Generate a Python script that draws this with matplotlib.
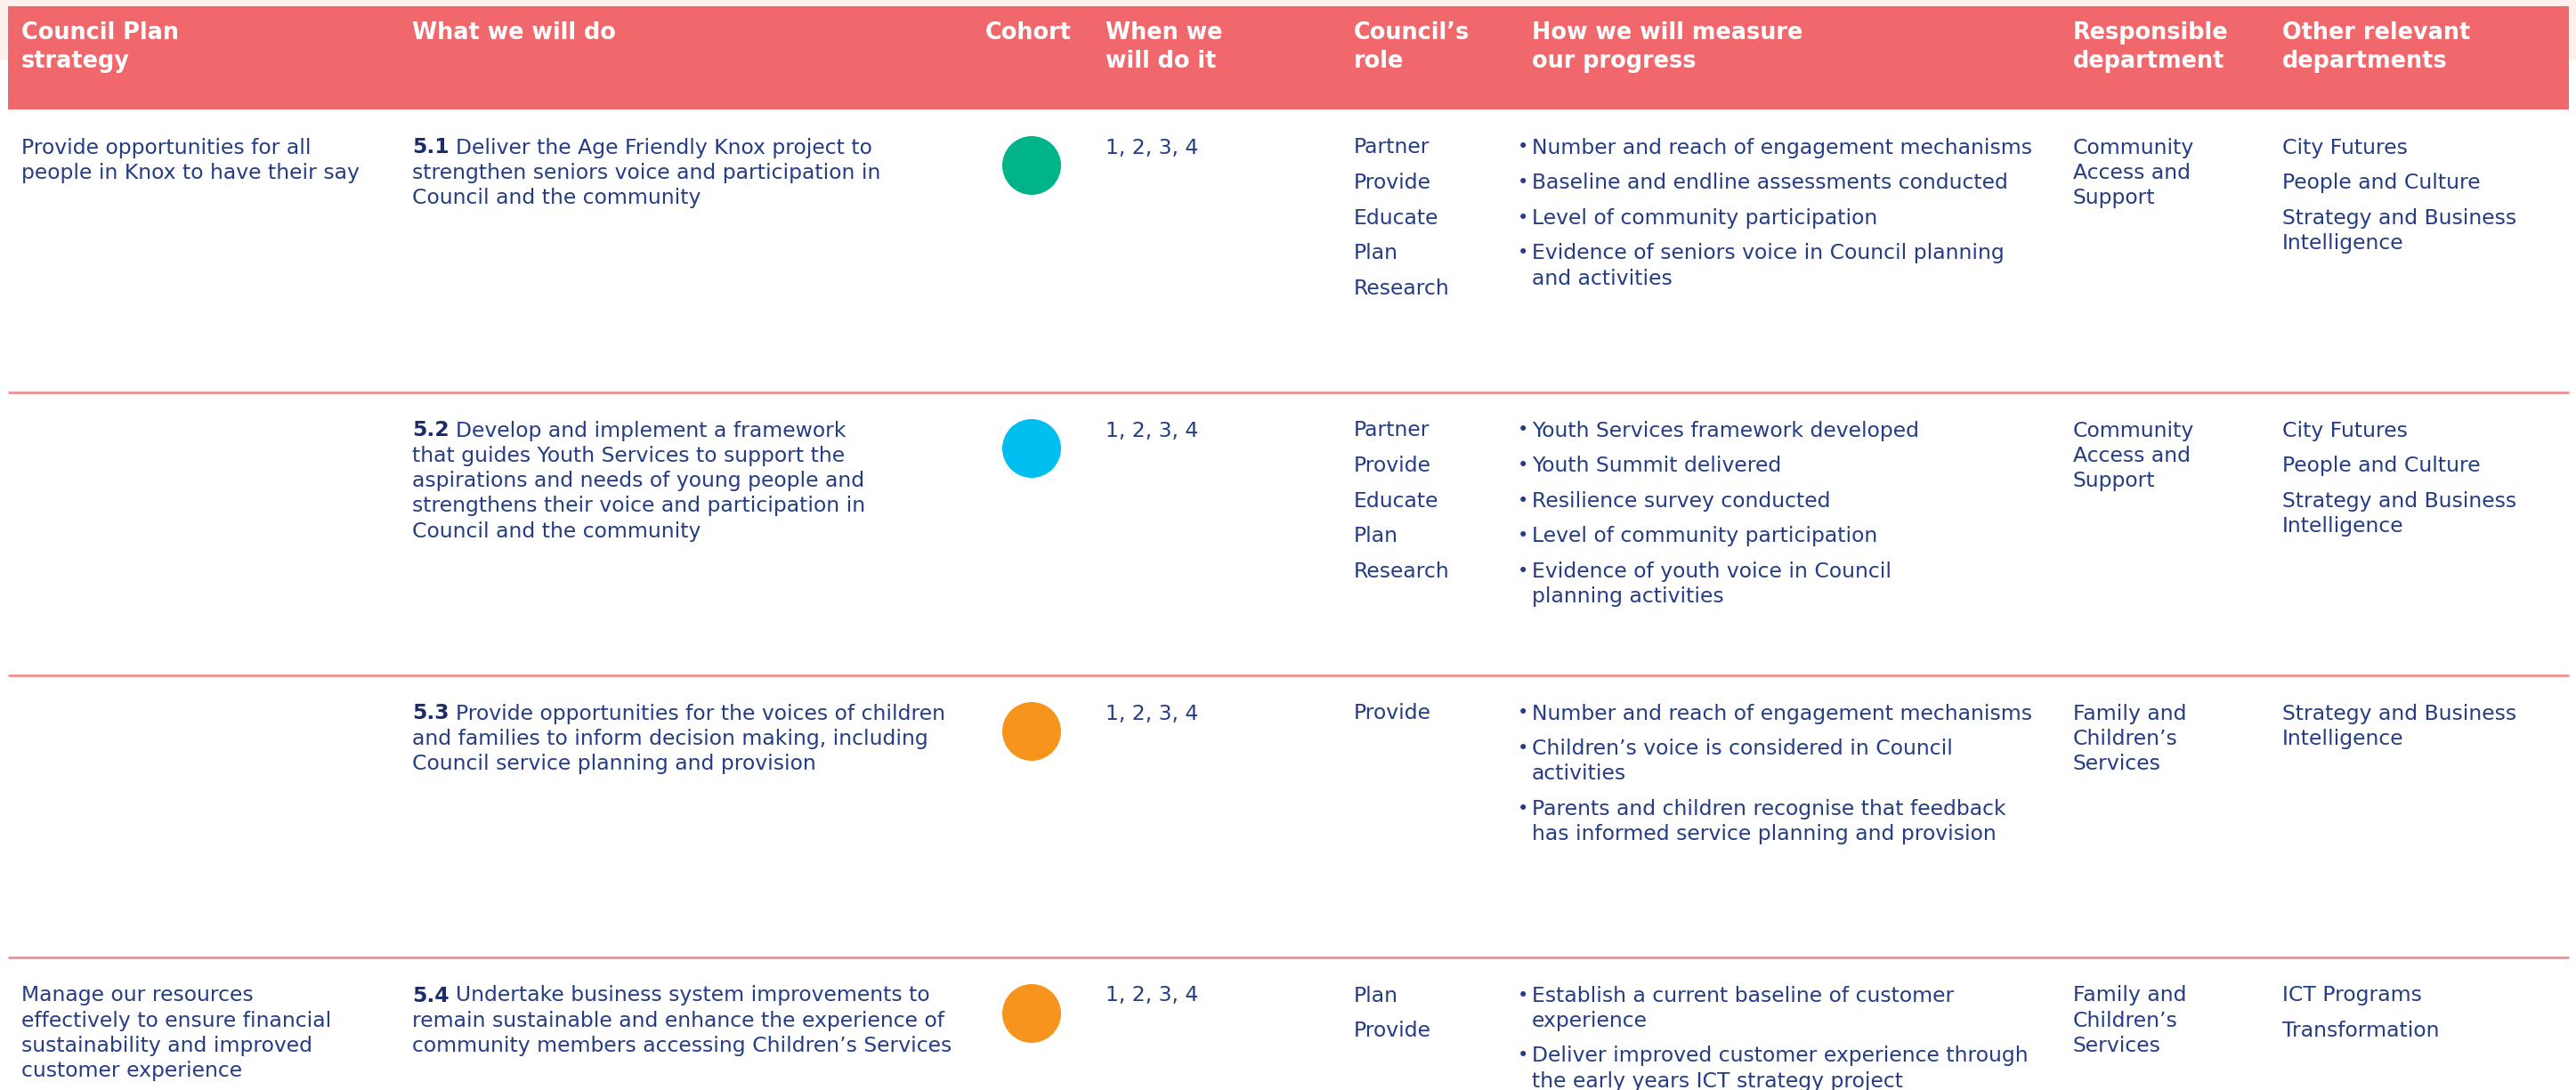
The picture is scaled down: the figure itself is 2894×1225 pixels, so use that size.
import matplotlib
matplotlib.use("Agg")
import matplotlib.pyplot as plt
from matplotlib.patches import Rectangle, Circle

# ---------------- data ----------------
headers = ["Council Plan\nstrategy", "What we will do", "Cohort", "When we\nwill do it",
           "Council\u2019s\nrole", "How we will measure\nour progress",
           "Responsible\ndepartment", "Other relevant\ndepartments"]

strategies = ["Provide opportunities for all\npeople in Knox to have their say",
              "",
              "",
              "Manage our resources\neffectively to ensure financial\nsustainability and improved\ncustomer experience"]

action_ids = ["5.1", "5.2", "5.3", "5.4"]
actions = [
    "Deliver the Age Friendly Knox project to\nstrengthen seniors voice and participation in\nCouncil and the community",
    "Develop and implement a framework\nthat guides Youth Services to support the\naspirations and needs of young people and\nstrengthens their voice and participation in\nCouncil and the community",
    "Provide opportunities for the voices of children\nand families to inform decision making, including\nCouncil service planning and provision",
    "Undertake business system improvements to\nremain sustainable and enhance the experience of\ncommunity members accessing Children\u2019s Services",
]

cohort_colors = ["#00B48A", "#00BFF0", "#F7941D", "#F7941D"]

when = ["1, 2, 3, 4", "1, 2, 3, 4", "1, 2, 3, 4", "1, 2, 3, 4"]

roles = [
    ["Partner", "Provide", "Educate", "Plan", "Research"],
    ["Partner", "Provide", "Educate", "Plan", "Research"],
    ["Provide"],
    ["Plan", "Provide"],
]

measures = [
    ["Number and reach of engagement mechanisms",
     "Baseline and endline assessments conducted",
     "Level of community participation",
     "Evidence of seniors voice in Council planning\nand activities"],
    ["Youth Services framework developed",
     "Youth Summit delivered",
     "Resilience survey conducted",
     "Level of community participation",
     "Evidence of youth voice in Council\nplanning activities"],
    ["Number and reach of engagement mechanisms",
     "Children\u2019s voice is considered in Council\nactivities",
     "Parents and children recognise that feedback\nhas informed service planning and provision"],
    ["Establish a current baseline of customer\nexperience",
     "Deliver improved customer experience through\nthe early years ICT strategy project"],
]

responsible = ["Community\nAccess and\nSupport", "Community\nAccess and\nSupport",
               "Family and\nChildren\u2019s\nServices", "Family and\nChildren\u2019s\nServices"]

others = [
    ["City Futures", "People and Culture", "Strategy and Business\nIntelligence"],
    ["City Futures", "People and Culture", "Strategy and Business\nIntelligence"],
    ["Strategy and Business\nIntelligence"],
    ["ICT Programs", "Transformation"],
]

# ---------------- style / layout ----------------
W, H = 2894, 1225
FONT = "DejaVu Sans"
HEADER_COL = "#F1686C"
PINK_BG = "#FDEFEC"
LINE_COL = "#F3878A"
TEXT_COL = "#253D85"
BOLD_COL = "#1B2C6E"
BODY_FS = 16.9
HEAD_FS = 18.4

col_x = [24, 463, 1107, 1242, 1521, 1721, 2329, 2564]
cohort_cx = 1159
bullet_x = 1705
head_top, head_bot = 7, 123
table_left, table_right = 9, 2886
row_tops = [123, 441, 759, 1076]
wrap_dy = 28.3
item_dy = 39.6
first_base = 49.5
circle_off = 63
circle_r = 33

fig = plt.figure(figsize=(W / 100, H / 100), dpi=100)
ax = fig.add_axes([0, 0, 1, 1])
ax.set_xlim(0, W)
ax.set_ylim(H, 0)
ax.axis("off")

ax.add_patch(Rectangle((0, 0), W, 67, color=PINK_BG, lw=0, zorder=0))
ax.add_patch(Rectangle((table_left, head_top), table_right - table_left, head_bot - head_top,
                       color=HEADER_COL, lw=0, zorder=1))

for x, h in zip(col_x, headers):
    for i, line in enumerate(h.split("\n")):
        ax.text(x, 44 + i * 32, line, color="white", fontsize=HEAD_FS, fontweight="bold",
                family=FONT, va="baseline", ha="left", zorder=3)

for yt in row_tops[1:]:
    ax.plot([table_left, table_right], [yt, yt], color=LINE_COL, lw=1.9, zorder=2,
            solid_capstyle="butt")


def draw_para(x, y, text, **kw):
    lines = text.split("\n")
    for i, line in enumerate(lines):
        ax.text(x, y + i * wrap_dy, line, color=TEXT_COL, fontsize=BODY_FS, family=FONT,
                va="baseline", ha="left", zorder=3, **kw)
    return y + (len(lines) - 1) * wrap_dy


def draw_items(x, y, items, bullet=False):
    for it in items:
        if bullet:
            ax.text(bullet_x, y - 1, "\u2022", color=TEXT_COL, fontsize=BODY_FS * 0.9,
                    family=FONT, va="baseline", ha="left", zorder=3)
        last = draw_para(x, y, it)
        y = last + item_dy


fig.canvas.draw()
renderer = fig.canvas.get_renderer()
inv = ax.transData.inverted()

for r, top in enumerate(row_tops):
    yb = top + first_base
    if strategies[r]:
        draw_para(col_x[0], yb, strategies[r])
    t = ax.text(col_x[1], yb, action_ids[r], color=BOLD_COL, fontsize=BODY_FS, family=FONT,
                fontweight="bold", va="baseline", ha="left", zorder=3)
    bb = t.get_window_extent(renderer=renderer)
    x_end = inv.transform((bb.x1, 0))[0]
    lines = actions[r].split("\n")
    ax.text(x_end + 7, yb, lines[0], color=TEXT_COL, fontsize=BODY_FS, family=FONT,
            va="baseline", ha="left", zorder=3)
    if len(lines) > 1:
        draw_para(col_x[1], yb + wrap_dy, "\n".join(lines[1:]))
    ax.add_patch(Circle((cohort_cx, top + circle_off), circle_r, color=cohort_colors[r],
                        lw=0, zorder=3))
    draw_para(col_x[3], yb, when[r])
    draw_items(col_x[4], yb, roles[r])
    draw_items(col_x[5], yb, measures[r], bullet=True)
    draw_para(col_x[6], yb, responsible[r])
    draw_items(col_x[7], yb, others[r])

fig.savefig("out.png", dpi=100, facecolor="white")
